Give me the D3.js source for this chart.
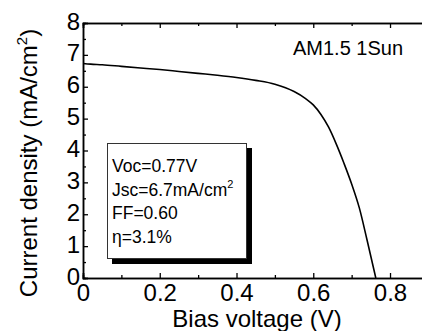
<!DOCTYPE html>
<html>
<head>
<meta charset="utf-8">
<script src="https://cdn.jsdelivr.net/npm/d3@7"></script>
<style>
  body { margin: 0; background: #fff; }
  svg { display: block; font-family: 'Liberation Sans', Arial, sans-serif; }
</style>
</head>
<body>
<div id="chart"></div>
<script>
// J-V curve
const voltage = [0, 0.02, 0.05, 0.1, 0.15, 0.2, 0.25, 0.3, 0.35, 0.4, 0.45, 0.5, 0.55, 0.58, 0.6, 0.62, 0.64, 0.66, 0.68, 0.7, 0.72, 0.74, 0.763]
const current = [6.73, 6.71, 6.69, 6.64, 6.59, 6.54, 6.48, 6.42, 6.36, 6.29, 6.2, 6.08, 5.85, 5.63, 5.43, 5.13, 4.73, 4.2, 3.6, 2.95, 2.2, 1.2, 0]
const xMajor = [0, 0.2, 0.4, 0.6, 0.8]
const xMinor = [0.1, 0.3, 0.5, 0.7, 0.9]
const yMajor = [0, 1, 2, 3, 4, 5, 6, 7, 8]
const yMinor = [0.5, 1.5, 2.5, 3.5, 4.5, 5.5, 6.5, 7.5]
const legendLines = ['Voc=0.77V', 'Jsc=6.7mA/cm', 'FF=0.60', 'η=3.1%']

const W = 422
const H = 331
const margin = { top: 23, left: 83, bottom: 53 }
const height = H - margin.top - margin.bottom

const svg = d3.select('#chart').append('svg')
  .attr('width', W)
  .attr('height', H)

const g = svg.append('g')
  .attr('transform', 'translate(' + margin.left + ',' + margin.top + ')')

const x = d3.scaleLinear().domain([0, 0.9]).range([0, 345.4])
const y = d3.scaleLinear().domain([0, 8]).range([height, 0])

// bottom axis
g.append('g')
  .attr('transform', 'translate(0,' + height + ')')
  .call(d3.axisBottom(x).tickValues(xMinor).tickSize(-3).tickFormat(''))
g.append('g')
  .attr('transform', 'translate(0,' + height + ')')
  .call(d3.axisBottom(x).tickValues(xMajor).tickSize(-5).tickPadding(6).tickFormat(d3.format('~g')))

// top axis
g.append('g')
  .call(d3.axisTop(x).tickValues(xMinor).tickSize(-3).tickFormat(''))
g.append('g')
  .call(d3.axisTop(x).tickValues(xMajor).tickSize(-5).tickFormat(''))

// left axis
g.append('g')
  .call(d3.axisLeft(y).tickValues(yMinor).tickSize(-3).tickFormat(''))
const yAxis = g.append('g')
  .call(d3.axisLeft(y).tickValues(yMajor).tickSize(-5).tickPadding(3).tickFormat(d3.format('d')))

g.selectAll('.domain').attr('stroke', '#000').attr('stroke-width', 1.5)
g.selectAll('.tick line').attr('stroke', '#000').attr('stroke-width', 1.3)
g.selectAll('.tick text').attr('font-size', 24).attr('fill', '#000')
  .attr('font-family', "'Liberation Sans', Arial, sans-serif")
yAxis.selectAll('.tick text').attr('dy', '0.25em')

// curve
const line = d3.line()
  .x((d, i) => x(voltage[i]))
  .y(d => y(d))
  .curve(d3.curveMonotoneX)
g.append('path')
  .datum(current)
  .attr('fill', 'none')
  .attr('stroke', '#000')
  .attr('stroke-width', 1.6)
  .attr('d', line)

// axis titles
svg.append('text')
  .attr('x', 257)
  .attr('y', 327)
  .attr('text-anchor', 'middle')
  .attr('font-size', 24)
  .text('Bias voltage (V)')

const yt = svg.append('text')
  .attr('transform', 'translate(37,' + 163 + ') rotate(-90)')
  .attr('text-anchor', 'middle')
  .attr('font-size', 24)
yt.append('tspan').text('Current density (mA/cm')
yt.append('tspan').attr('font-size', 15).attr('dy', -10).text('2')
yt.append('tspan').attr('dy', 10).text(')')

svg.append('text')
  .attr('x', 293)
  .attr('y', 55)
  .attr('font-size', 20)
  .text('AM1.5 1Sun')

// legend box with shadow
svg.append('rect')
  .attr('x', 112).attr('y', 148)
  .attr('width', 140).attr('height', 116)
  .attr('fill', '#000')
svg.append('rect')
  .attr('x', 107.5).attr('y', 143.5)
  .attr('width', 139).attr('height', 115)
  .attr('fill', '#fff')
  .attr('stroke', '#333')
  .attr('stroke-width', 1)

const lt = svg.append('g').attr('font-size', 17.5)
legendLines.forEach(function (s, i) {
  const t = lt.append('text')
    .attr('x', 112)
    .attr('y', 172 + i * 23.7)
    .text(s)
  if (i === 1) {
    t.append('tspan').attr('font-size', 11).attr('dy', -8).text('2')
  }
})
</script>
</body>
</html>
